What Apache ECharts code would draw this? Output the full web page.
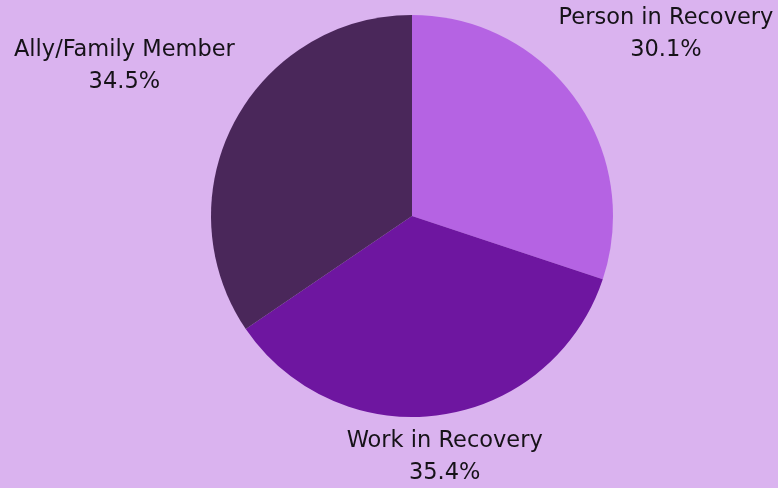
<!DOCTYPE html>
<html>
<head>
<meta charset="utf-8">
<style>
  html, body { margin: 0; padding: 0; background: #dab3ef; }
  #chart { width: 778px; height: 488px; }
</style>
<script src="https://cdn.jsdelivr.net/npm/echarts@6/dist/echarts.min.js"></script>
</head>
<body>
<div id="chart"></div>
<script>
// Survey respondents by role (percent of total)
const categories = ['Person in Recovery', 'Work in Recovery', 'Ally/Family Member'];
const shares = [30.1, 35.4, 34.5];
const sliceColors = ['#b563e3', '#6e16a0', '#4a275a'];

// Fine offsets for each outside label, in pixels
const labelNudge = [[86, -64], [0, 42], [-105, -56]];

const chart = echarts.init(document.getElementById('chart'), null, { renderer: 'canvas' });

chart.setOption({
  backgroundColor: '#dab3ef',
  animation: false,
  series: [{
    type: 'pie',
    center: [412, 216],
    radius: 201,
    startAngle: 90,
    clockwise: true,
    avoidLabelOverlap: false,
    data: categories.map((name, i) => ({
      name,
      value: shares[i],
      itemStyle: { color: sliceColors[i] }
    })),
    itemStyle: { borderWidth: 0 },
    label: {
      show: true,
      position: 'outside',
      formatter: '{b}\n{c}%',
      fontFamily: 'DejaVu Sans',
      fontSize: 22.5,
      lineHeight: 32,
      color: '#161218',
      align: 'center'
    },
    labelLine: { show: false, length: 0, length2: 0 },
    labelLayout: function (p) {
      const n = labelNudge[p.dataIndex];
      return { align: 'center', dx: n[0], dy: n[1] };
    },
    emphasis: { disabled: true }
  }]
});
</script>
</body>
</html>
